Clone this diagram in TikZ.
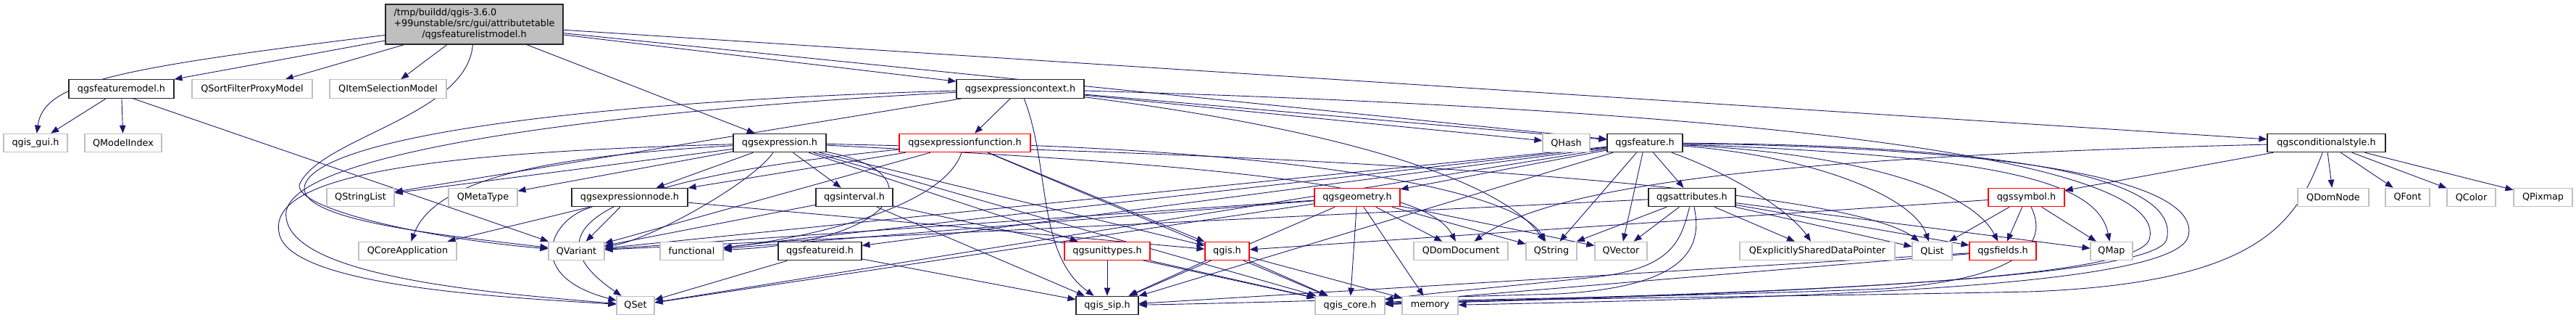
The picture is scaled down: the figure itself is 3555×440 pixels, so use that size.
\documentclass[tikz,border=0pt]{standalone}
\usepackage{fontspec}
\setmainfont{DejaVu Sans}
\usetikzlibrary{arrows.meta}
\definecolor{edgec}{HTML}{191970}
\definecolor{greyb}{HTML}{BFBFBF}
\pgfdeclarelayer{background}
\pgfsetlayers{background,main}
\begin{document}
\begin{tikzpicture}[x=1pt,y=-1pt,
  base/.style={inner sep=0pt, minimum height=25.5pt, fill=white, line width=1.1pt,
     font=\fontsize{12.8}{15}\selectfont},
  nb/.style={base, draw=black!85},
  ng/.style={base, draw=greyb},
  nr/.style={base, draw=red},
  e/.style={draw=edgec, line width=0.9pt, -{Triangle[length=11pt,width=8.5pt]}}]
\begin{pgfonlayer}{background}
\path[use as bounding box, fill=white] (0,0) rectangle (3555,440);
\end{pgfonlayer}
% nodes
\node[nb, fill=greyb, minimum width=245pt, minimum height=55pt] (main) at (654.5,33.5)
  {\begin{tabular}{@{}l@{}}/tmp/buildd/qgis-3.6.0\\+99unstable/src/gui/attributetable\\\multicolumn{1}{@{}c@{}}{/qgsfeaturelistmodel.h}\end{tabular}};
\node[nb, minimum width=145pt] (featuremodel) at (167.5,122.5) {qgsfeaturemodel.h};
\node[ng, minimum width=166pt] (sortfilter) at (348,122.5) {QSortFilterProxyModel};
\node[ng, minimum width=161pt] (itemsel) at (535.5,122.5) {QItemSelectionModel};
\node[nb, minimum width=176pt] (exprcontext) at (1408,122.5) {qgsexpressioncontext.h};
\node[ng, minimum width=88pt] (qgisgui) at (49,197) {qgis\_gui.h};
\node[ng, minimum width=106pt] (modelindex) at (170,197) {QModelIndex};
\node[nb, minimum width=128pt] (expression) at (1076,197) {qgsexpression.h};
\node[nr, minimum width=181pt] (exprfunction) at (1331.5,197) {qgsexpressionfunction.h};
\node[ng, minimum width=65pt] (qhash) at (2161.5,197) {QHash};
\node[nb, minimum width=104pt] (feature) at (2270,197) {qgsfeature.h};
\node[nb, minimum width=163pt] (condstyle) at (3210.5,197) {qgsconditionalstyle.h};
\node[ng, minimum width=93pt] (qstringlist) at (497.5,272) {QStringList};
\node[ng, minimum width=95pt] (qmetatype) at (666.5,272) {QMetaType};
\node[nb, minimum width=160pt] (exprnode) at (869,272) {qgsexpressionnode.h};
\node[nb, minimum width=106pt] (interval) at (1179,272) {qgsinterval.h};
\node[nr, minimum width=118pt] (geometry) at (1873,272) {qgsgeometry.h};
\node[nb, minimum width=120pt] (attributes) at (2335,272) {qgsattributes.h};
\node[nr, minimum width=105pt] (symbol) at (2796.5,272) {qgssymbol.h};
\node[ng, minimum width=98pt] (qdomnode) at (3220,272) {QDomNode};
\node[ng, minimum width=61pt] (qfont) at (3322.5,272) {QFont};
\node[ng, minimum width=67pt] (qcolor) at (3410.5,272) {QColor};
\node[ng, minimum width=81pt] (qpixmap) at (3509.5,272) {QPixmap};
\node[ng, minimum width=135pt] (qcoreapp) at (562.5,346) {QCoreApplication};
\node[ng, minimum width=77pt] (qvariant) at (795.5,346) {QVariant};
\node[ng, minimum width=87pt] (functional) at (954.5,346) {functional};
\node[nb, minimum width=115pt] (featureid) at (1131.5,346) {qgsfeatureid.h};
\node[nr, minimum width=118pt] (unittypes) at (1528,346) {qgsunittypes.h};
\node[nr, minimum width=61pt] (qgish) at (1693.5,346) {qgis.h};
\node[ng, minimum width=130pt] (qdomdocument) at (2016,346) {QDomDocument};
\node[ng, minimum width=70pt] (qstring) at (2141,346) {QString};
\node[ng, minimum width=72pt] (qvector) at (2237,346) {QVector};
\node[ng, minimum width=214pt] (qesdp) at (2508,346) {QExplicitlySharedDataPointer};
\node[ng, minimum width=55pt] (qlist) at (2666.5,346) {QList};
\node[nr, minimum width=92pt] (fields) at (2764,346) {qgsfields.h};
\node[ng, minimum width=58pt] (qmap) at (2914,346) {QMap};
\node[ng, minimum width=52pt] (qset) at (877,421) {QSet};
\node[nb, minimum width=86pt] (qgissip) at (1528,421) {qgis\_sip.h};
\node[ng, minimum width=96pt] (qgiscore) at (1863,421) {qgis\_core.h};
\node[ng, minimum width=77pt] (memory) at (1973.5,421) {memory};
% edges
\begin{pgfonlayer}{background}
% main
\draw[e] (main) .. controls (150,95) and (60,115) .. (qgisgui);
\draw[e] (main) -- (featuremodel);
\draw[e] (main) -- (sortfilter);
\draw[e] (main) -- (itemsel);
\draw[e] (main) .. controls (645,160) and (440,190) .. (413,255) .. controls (410,290) and (600,330) .. (qvariant);
\draw[e] (main) -- (expression);
\draw[e] (main) -- (exprcontext);
\draw[e] (main) -- (feature);
\draw[e] (main) -- (condstyle);
% featuremodel
\draw[e] (featuremodel) -- (qgisgui);
\draw[e] (featuremodel) -- (modelindex);
\draw[e] ([xshift=16pt]featuremodel.south) -- (qvariant);
% exprcontext
\draw[e] (exprcontext) -- (exprfunction);
\draw[e] (exprcontext) -- (qhash);
\draw[e] (exprcontext) -- (feature);
\draw[e] (exprcontext) .. controls (1900,185) and (2080,260) .. (qstring);
\draw[e] (exprcontext) .. controls (1450,230) and (1430,350) .. (qgissip);
\draw[e] (exprcontext) -- (qstringlist);
\draw[e] (exprcontext) .. controls (800,140) and (430,190) .. (420,258) .. controls (415,305) and (620,325) .. (qvariant);
\draw[e] (exprcontext) .. controls (800,155) and (380,215) .. (395,300) .. controls (405,385) and (700,405) .. (qset);
\draw[e] (exprcontext) .. controls (2700,160) and (2990,250) .. (2966,330) .. controls (2945,395) and (2300,405) .. (qgiscore);
% expression
\draw[e] (expression) -- (qstringlist);
\draw[e] (expression) -- (qmetatype);
\draw[e] (expression) -- (exprnode);
\draw[e] (expression) -- (interval);
\draw[e] (expression) -- (unittypes);
\draw[e] (expression) -- (qgish);
\draw[e] (expression) .. controls (1040,250) and (900,330) .. (qvariant);
\draw[e] (expression) .. controls (600,210) and (370,240) .. (385,320) .. controls (395,395) and (700,410) .. (qset);
\draw[e] (expression) .. controls (760,215) and (600,245) .. (qcoreapp);
\draw[e] (expression) .. controls (1300,240) and (1230,335) .. (functional);
\draw[e] (expression) -- (qgiscore);
\draw[e] (expression) .. controls (1750,230) and (1970,260) .. (qdomdocument);
\draw[e] (expression) .. controls (1900,215) and (2550,260) .. (qlist);
% exprfunction
\draw[e] (exprfunction) -- (exprnode);
\draw[e] (exprfunction) -- (qvariant);
\draw[e] (exprfunction) .. controls (1300,290) and (1100,330) .. (functional);
\draw[e] (exprfunction) .. controls (900,240) and (700,300) .. (qset);
\draw[e] (exprfunction) -- (qgish);
\draw[e] (exprfunction) -- (qgiscore);
\draw[e] (exprfunction) .. controls (1800,215) and (2090,260) .. (qstring);
% exprnode
\draw[e] (exprnode) -- (qcoreapp);
\draw[e] (exprnode) -- (qvariant);
\draw[e] (exprnode) .. controls (760,300) and (720,380) .. (qset);
\draw[e] (exprnode) -- (qgish);
% interval
\draw[e] (interval) -- (qvariant);
\draw[e] (interval) -- (qgiscore);
\draw[e] (interval) -- (qgissip);
% featureid, unittypes, qgis.h
\draw[e] (featureid) -- (qset);
\draw[e] (featureid) -- (qgissip);
\draw[e] (unittypes) -- (qgissip);
\draw[e] (unittypes) -- (qgiscore);
\draw[e] (qgish) -- (qgissip);
\draw[e] (qgish) -- (qgiscore);
\draw[e] (qgish) -- (memory);
% feature
\draw[e] (feature) -- (geometry);
\draw[e] (feature) -- (attributes);
\draw[e] (feature) -- (qstring);
\draw[e] (feature) -- (qvector);
\draw[e] (feature) .. controls (2390,240) and (2470,290) .. (qesdp);
\draw[e] (feature) .. controls (2500,215) and (2640,270) .. (qlist);
\draw[e] (feature) .. controls (2560,212) and (2720,260) .. (fields);
\draw[e] (feature) .. controls (2760,215) and (2895,250) .. (qmap);
\draw[e] (feature) .. controls (2800,200) and (3010,250) .. (2990,330) .. controls (2975,390) and (2300,408) .. (qgiscore);
\draw[e] (feature) .. controls (2850,205) and (3035,260) .. (3020,325) .. controls (3005,395) and (2500,410) .. (memory);
\draw[e] (feature) -- (qvariant);
\draw[e] (feature) -- (qset);
\draw[e] (feature) -- (functional);
\draw[e] (feature) -- (featureid);
\draw[e] (feature) -- (qgissip);
% attributes
\draw[e] (attributes) -- (qstring);
\draw[e] (attributes) -- (qvector);
\draw[e] (attributes) -- (qesdp);
\draw[e] (attributes) -- (qlist);
\draw[e] (attributes) -- (fields);
\draw[e] (attributes) -- (qmap);
\draw[e] (attributes) .. controls (2320,330) and (2310,370) .. (2200,382) .. controls (2050,398) and (1960,405) .. (qgiscore);
\draw[e] (attributes) .. controls (2350,340) and (2330,395) .. (2150,405) .. controls (1900,412) and (1700,418) .. (qgissip);
\draw[e] (attributes) -- (qvariant);
% geometry
\draw[e] (geometry) -- (qdomdocument);
\draw[e] (geometry) -- (qstring);
\draw[e] (geometry) -- (qvector);
\draw[e] (geometry) -- (qgiscore);
\draw[e] (geometry) -- (memory);
\draw[e] (geometry) -- (qgissip);
\draw[e] (geometry) -- (qset);
\draw[e] (geometry) -- (qvariant);
\draw[e] (geometry) -- (functional);
% symbol
\draw[e] (symbol) -- (qlist);
\draw[e] (symbol) -- (fields);
\draw[e] (symbol) -- (qmap);
\draw[e] (symbol) -- (qgish);
\draw[e] (symbol) .. controls (2830,340) and (2780,385) .. (2600,398) .. controls (2300,410) and (2000,412) .. (qgiscore);
% condstyle
\draw[e] (condstyle) -- (symbol);
\draw[e] (condstyle) -- (qdomnode);
\draw[e] (condstyle) -- (qfont);
\draw[e] (condstyle) -- (qcolor);
\draw[e] (condstyle) -- (qpixmap);
\draw[e] (condstyle) .. controls (2500,215) and (2150,250) .. (qdomdocument);
\draw[e] (condstyle) .. controls (3170,300) and (3130,390) .. (2800,402) .. controls (2400,410) and (2050,412) .. (qgiscore);
% fields
\draw[e] (fields) -- (qgiscore);
\draw[e] (fields) -- (qgissip);
\end{pgfonlayer}
\end{tikzpicture}
\end{document}
